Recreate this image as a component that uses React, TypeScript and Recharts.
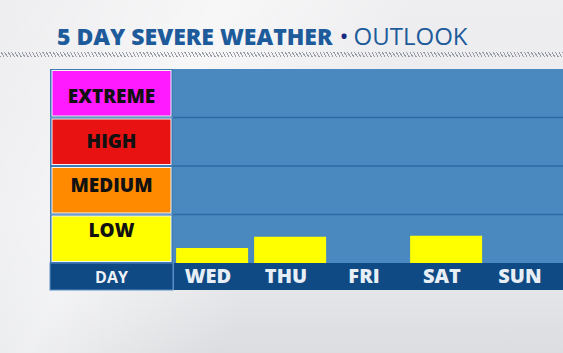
import React from 'react';
import { ComposedChart, Bar, XAxis, YAxis, ReferenceLine } from 'recharts';

const days = ['WED', 'THU', 'FRI', 'SAT', 'SUN'];
const risk = [0.31, 0.54, 0, 0.56, 0];
const levels = ['LOW', 'MEDIUM', 'HIGH', 'EXTREME'];
const levelColors = ['#ffff00', '#ff8a00', '#e81212', '#ff1aff'];
const yTicks = [0, 0.5, 1.5, 2.5, 3.5];
const gridValues = [1, 2, 3];

const data = days.map((d, i) => ({ day: d, risk: risk[i] }));

const W = 563;
const H = 353;
const M_TOP = 69;
const M_LEFT = 50;
const AXIS_W = 123;
const X_AXIS_H = 27;
const M_BOTTOM = 63;
const PLOT_H = H - M_TOP - M_BOTTOM - X_AXIS_H;
const PLOT_W = W - M_LEFT - AXIS_W;
const BAND = PLOT_H / levels.length;

const PANEL_BLUE = '#4a88c0';
const COL_BLUE = '#3f7cb6';
const DARK = '#0f4a84';
const FONT = '"Open Sans", sans-serif';

const LevelTick = (props: any) => {
  const { y, payload } = props;
  const v = payload.value;
  const left = M_LEFT;
  if (v === 0) {
    return (
      <g>
        <rect x={left} y={y} width={AXIS_W} height={X_AXIS_H} fill={DARK} stroke="#5a8fc4" strokeWidth={1} />
        <text x={left + AXIS_W / 2} y={y + 20} textAnchor="middle" fill="#eef2f7" fontFamily={FONT} fontWeight={700} fontSize={16}>DAY</text>
      </g>
    );
  }
  const idx = Math.floor(v);
  const top = y - BAND / 2;
  const off = -9 + 4 * (v - 0.5);
  return (
    <g>
      <rect x={left} y={top} width={AXIS_W} height={BAND} fill={COL_BLUE} />
      <rect x={left + 2} y={top + 1.5} width={AXIS_W - 4} height={BAND - 3} fill={levelColors[idx]} stroke="#f4f4f4" strokeWidth={1} />
      <text x={left + AXIS_W / 2} y={y + off + 7} textAnchor="middle" fill="#111" fontFamily={FONT} fontWeight={800} fontSize={19}>{levels[idx]}</text>
    </g>
  );
};

const DayTick = (props: any) => {
  const { x, y, payload } = props;
  return (
    <text x={x - 4} y={y + 20} textAnchor="middle" fill="#e8eef5" fontFamily={FONT} fontWeight={800} fontSize={20}>{payload.value}</text>
  );
};

export default function App() {
  return (
    <div
      style={{
        position: 'absolute',
        left: 0,
        top: 0,
        width: W,
        height: H,
        overflow: 'hidden',
        background: 'linear-gradient(180deg, #eeeef0 0%, #ebebee 60%, #e4e5e8 82%, #dcdde0 100%)',
      }}
    >
      <style>{'html,body{margin:0;padding:0;overflow:hidden;}'}</style>
      <div
        style={{
          position: 'absolute',
          left: 0,
          top: 0,
          width: W,
          height: H,
          background: 'linear-gradient(120deg, rgba(255,255,255,0) 0%, rgba(255,255,255,0.55) 30%, rgba(255,255,255,0) 55%)',
        }}
      />
      <div
        style={{
          position: 'absolute',
          left: M_LEFT + AXIS_W,
          top: M_TOP,
          width: PLOT_W,
          height: PLOT_H,
          background: PANEL_BLUE,
        }}
      />
      <div
        style={{
          position: 'absolute',
          left: M_LEFT + AXIS_W,
          top: M_TOP + PLOT_H,
          width: PLOT_W,
          height: X_AXIS_H,
          background: DARK,
          borderLeft: '1px solid #5a8fc4',
          boxSizing: 'border-box',
        }}
      />
      <div
        style={{
          position: 'absolute',
          left: 57,
          top: 21,
          whiteSpace: 'nowrap',
          fontFamily: FONT,
          lineHeight: '30px',
          color: '#1d5b9b',
        }}
      >
        <span style={{ fontWeight: 800, fontSize: 23 }}>5 DAY SEVERE WEATHER</span>
        <span style={{ color: '#1b2a82', margin: '0 5px 0 7px', fontSize: 24 }}>•</span>
        <span style={{ fontWeight: 400, fontSize: 24 }}>OUTLOOK</span>
      </div>
      <div
        style={{
          position: 'absolute',
          left: 0,
          top: 52,
          width: W,
          height: 5,
          background: 'repeating-linear-gradient(60deg, #979ca6 0px, #979ca6 1px, rgba(0,0,0,0) 1px, rgba(0,0,0,0) 3px)',
        }}
      />
      <div style={{ position: 'absolute', left: 0, top: 0 }}>
        <ComposedChart
          width={W}
          height={H}
          data={data}
          margin={{ top: M_TOP, left: M_LEFT, right: 0, bottom: M_BOTTOM }}
          barCategoryGap="4%"
        >
          <XAxis
            dataKey="day"
            height={X_AXIS_H}
            axisLine={false}
            tickLine={false}
            tickSize={0}
            tickMargin={0}
            interval={0}
            tick={<DayTick />}
          />
          <YAxis
            type="number"
            domain={[0, 4]}
            ticks={yTicks}
            width={AXIS_W}
            axisLine={false}
            tickLine={false}
            tickSize={0}
            tickMargin={0}
            interval={0}
            tick={<LevelTick />}
          />
          {gridValues.map((g) => (
            <ReferenceLine key={g} y={g} stroke="#2f6aa3" strokeWidth={1.5} />
          ))}
          <Bar dataKey="risk" fill="#ffff00" isAnimationActive={false} />
        </ComposedChart>
      </div>
    </div>
  );
}
